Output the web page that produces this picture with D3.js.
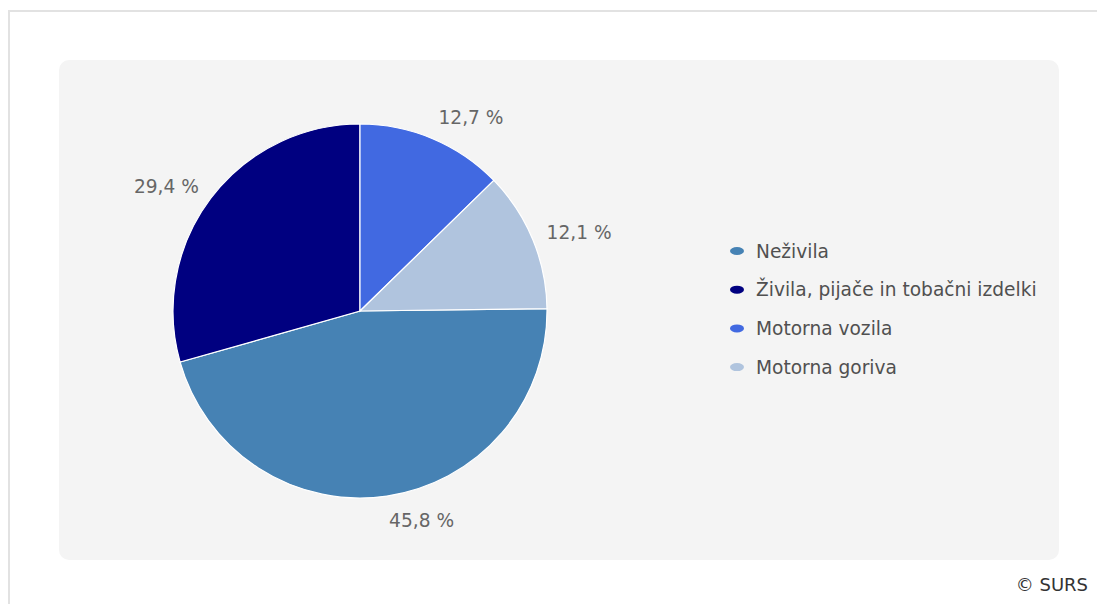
<!DOCTYPE html>
<html>
<head>
<meta charset="utf-8">
<script src="https://cdn.jsdelivr.net/npm/d3@7"></script>
<style>
  body { margin: 0; background: #fff; }
  svg { display: block; font-family: "DejaVu Sans", Verdana, sans-serif; }
</style>
</head>
<body>
<svg width="1097" height="604"></svg>
<script>
// data (legend order)
var categories = ['Neživila', 'Živila, pijače in tobačni izdelki', 'Motorna vozila', 'Motorna goriva'];
var shares = [45.8, 29.4, 12.7, 12.1];
var labels = ['45,8 %', '29,4 %', '12,7 %', '12,1 %'];
var colors = ['#4682b4', '#000080', '#4169e1', '#b0c4de'];

var svg = d3.select('svg');

// outer frame
svg.append('path')
    .attr('d', 'M9,604 V11 H1097')
    .attr('fill', 'none')
    .attr('stroke', '#e2e2e2')
    .attr('stroke-width', 2);

// grey panel
svg.append('rect')
    .attr('x', 59).attr('y', 60)
    .attr('width', 1000).attr('height', 500)
    .attr('rx', 10)
    .attr('fill', '#f4f4f4');

var cx = 360, cy = 311, radius = 187;

var total = d3.sum(shares);
// the Živila / Motorna vozila border sits at 12 o'clock
var start = 2 * Math.PI * (1 - (shares[0] + shares[1]) / total);

var pie = d3.pie().sort(null).startAngle(start).endAngle(start + 2 * Math.PI);
var arcs = pie(shares);

var arc = d3.arc().innerRadius(0).outerRadius(radius);
var labelR = 202;
var fs = 18.6;

var pieG = svg.append('g').attr('transform', `translate(${cx}, ${cy})`);

pieG.selectAll('path.slice')
    .data(arcs)
    .enter().append('path')
    .attr('class', 'slice')
    .attr('d', arc)
    .attr('fill', (d, i) => colors[i])
    .attr('stroke', '#fff')
    .attr('stroke-width', 1.2);

// label anchored at the mid angle, pushed out sideways by its own box
pieG.selectAll('text.lbl')
    .data(arcs)
    .enter().append('text')
    .attr('class', 'lbl')
    .each(function(d) {
        var a = (d.startAngle + d.endAngle) / 2;
        d.mx = Math.sin(a) * labelR;
        d.my = -Math.cos(a) * labelR - Math.cos(a) * Math.abs(Math.cos(a)) * fs * 0.5;
        d.side = Math.sin(a) >= 0 ? 'start' : 'end';
    })
    .attr('x', d => d.mx)
    .attr('y', d => d.my)
    .attr('text-anchor', d => d.side)
    .attr('dy', '0.36em')
    .attr('font-size', fs)
    .attr('fill', '#666')
    .text((d, i) => labels[i]);

// legend
var legendG = svg.append('g').attr('transform', 'translate(737, 251)');
var rowH = 38.7;

var rows = legendG.selectAll('g.row')
    .data(categories)
    .enter().append('g')
    .attr('class', 'row')
    .attr('transform', (d, i) => `translate(0, ${i * rowH})`);

rows.append('ellipse')
    .attr('cx', 0).attr('cy', 0)
    .attr('rx', 7).attr('ry', 4)
    .attr('fill', (d, i) => colors[i]);

rows.append('text')
    .attr('x', 19)
    .attr('dy', '0.36em')
    .attr('font-size', fs)
    .attr('fill', '#505050')
    .text(d => d);

// source
svg.append('text')
    .attr('x', 1088).attr('y', 591)
    .attr('text-anchor', 'end')
    .attr('font-size', 18)
    .attr('fill', '#333')
    .text('© SURS');
</script>
</body>
</html>
